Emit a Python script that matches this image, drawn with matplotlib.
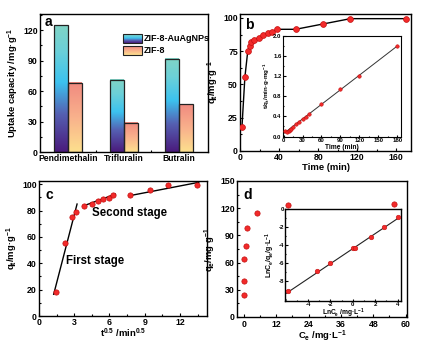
import numpy as np
import matplotlib
matplotlib.use("Agg")
import matplotlib.pyplot as plt
from matplotlib.colors import LinearSegmentedColormap
from matplotlib.patches import Rectangle
from matplotlib.ticker import MultipleLocator, FixedLocator

plt.rcParams['font.family'] = ['Liberation Sans', 'DejaVu Sans']
plt.rcParams['font.weight'] = 'bold'
plt.rcParams['axes.labelweight'] = 'bold'
plt.rcParams['mathtext.fontset'] = 'custom'
plt.rcParams['mathtext.rm'] = 'Liberation Sans:bold'
plt.rcParams['mathtext.it'] = 'Liberation Sans:bold'
plt.rcParams['mathtext.bf'] = 'Liberation Sans:bold'
plt.rcParams['mathtext.default'] = 'regular'
plt.rcParams['axes.unicode_minus'] = False
plt.rcParams['axes.linewidth'] = 1.0

# ---------------- data ----------------
cats = ['Pendimethalin', 'Trifluralin', 'Butralin']
zif_au = [125, 71, 92]
zif8 = [68, 29, 47]

b_time = [2, 5, 8, 10, 11, 14, 19, 24, 29, 33, 38, 57, 85, 113, 170]
b_qt = [18, 55.5, 75.5, 79, 82, 83.5, 85, 87, 88.5, 89.5, 91.5, 91.5, 95.5, 99.5, 99.5]

bi_time = [2, 5, 8, 10, 12, 15, 20, 25, 30, 35, 40, 60, 90, 120, 180]
bi_tq = [0.11, 0.09, 0.11, 0.13, 0.15, 0.18, 0.24, 0.29, 0.34, 0.39, 0.44, 0.65, 0.95, 1.21, 1.80]
bi_fit_t = [0, 180]
bi_fit_v = [0.06, 1.80]

c_x = [1.41, 2.24, 2.83, 3.16, 3.87, 4.47, 5.0, 5.48, 5.92, 6.32, 7.75, 9.49, 10.95, 13.42]
c_y = [18, 55.5, 75.5, 79, 83.5, 85, 87, 88.5, 89.5, 91.5, 91.5, 95.5, 99.5, 99.5]
stage1_x = [1.25, 3.24]
stage1_y = [16.5, 85]
stage2_x = [3.75, 6.5]
stage2_y = [83.5, 92.5]
stage3_x = [7.8, 13.6]
stage3_y = [91.5, 101.5]

d_ce = [0.05, 0.05, 0.2, 1.0, 1.3, 5.0, 16.5, 55.5]
d_qe = [24, 39.5, 63.5, 78.5, 98.5, 114.5, 123.5, 125]

di_lnce = [-5.8, -3.2, -2.0, 0.0, 0.2, 1.6, 2.8, 4.0]
di_ratio = [-9.1, -6.9, -6.0, -4.3, -4.35, -3.1, -2.0, -0.85]
di_fit_x = [-6.0, 4.1]
di_fit_y = [-9.45, -0.95]

# ---------------- styling ----------------
TICK_FS = 6.3
LAB_FS = 6.8
red_face = '#f22a2a'
red_edge = '#c41010'

cm_au = LinearSegmentedColormap.from_list('au', [
    (0.0, '#4a1a7c'), (0.3, '#5560b2'), (0.55, '#3cc2ef'), (0.8, '#6cd0d8'), (1.0, '#80d4c6')])
cm_z8 = LinearSegmentedColormap.from_list('z8', [
    (0.0, '#fde08e'), (0.5, '#f9b18c'), (1.0, '#f08a80')])

W, H = 425, 345
fig = plt.figure(figsize=(4.25, 3.45), dpi=100)


def rect(l, r, t, b):
    return [l / W, (H - b) / H, (r - l) / W, (b - t) / H]


def style(ax, fs=TICK_FS, length=2.5, mlength=1.5, pad=1.5):
    ax.tick_params(which='both', direction='in', labelsize=fs, width=0.8, pad=pad)
    ax.tick_params(which='major', length=length)
    ax.tick_params(which='minor', length=mlength)
    for lab in ax.get_xticklabels() + ax.get_yticklabels():
        lab.set_fontweight('bold')


grad = np.linspace(0, 1, 256).reshape(-1, 1)

# ---------------- panel a ----------------
axa = fig.add_axes(rect(40, 208, 14, 152))
bw = 0.25
x = np.arange(len(cats))
for xi, v1, v2 in zip(x, zif_au, zif8):
    for x0, v, cm in ((xi - bw, v1, cm_au), (xi, v2, cm_z8)):
        axa.imshow(grad, extent=[x0, x0 + bw, 0, v], origin='lower', aspect='auto',
                   cmap=cm, zorder=2, interpolation='bilinear')
        axa.add_patch(Rectangle((x0, 0), bw, v, fill=False, edgecolor='#222222', lw=0.9, zorder=3))
axa.set_xticks(x)
axa.set_xticklabels(cats)
axa.xaxis.set_minor_locator(FixedLocator([0.5, 1.5]))
axa.set_yticks([0, 30, 60, 90, 120])
axa.yaxis.set_minor_locator(MultipleLocator(15))
style(axa)
axa.tick_params(axis='x', which='major', length=0, labelsize=6.2, pad=1.5)
axa.set_ylabel('Uptake capacity /mg·g$^{-1}$', fontsize=LAB_FS, labelpad=2)
axa.text(0.03, 0.99, 'a', transform=axa.transAxes, fontsize=10, fontweight='bold', va='top', ha='left')
# manual gradient legend
for (y0, y1), cm, lab in (((0.79, 0.855), cm_au, 'ZIF-8-AuAgNPs'), ((0.703, 0.768), cm_z8, 'ZIF-8')):
    axa.imshow(grad, extent=[0.492, 0.605, y0, y1], origin='lower', aspect='auto', cmap=cm,
               transform=axa.transAxes, zorder=4, interpolation='bilinear')
    axa.add_patch(Rectangle((0.492, y0), 0.113, y1 - y0, fill=False, edgecolor='#222222', lw=0.8,
                            transform=axa.transAxes, zorder=5))
    axa.text(0.62, (y0 + y1) / 2, lab, transform=axa.transAxes, fontsize=6.5, fontweight='bold',
             va='center', ha='left')
axa.set_xlim(-0.51, 2.52)
axa.set_ylim(0, 136)

# ---------------- panel b ----------------
axb = fig.add_axes(rect(240, 411, 14, 151))
axb.plot(b_time, b_qt, '-', color='black', lw=1.0, zorder=2)
axb.plot(b_time, b_qt, 'o', ms=4.2, mfc=red_face, mec=red_edge, mew=0.5, zorder=3)
axb.set_xlim(0, 175)
axb.set_ylim(0, 103)
axb.set_xticks([0, 40, 80, 120, 160])
axb.set_yticks([0, 25, 50, 75, 100])
axb.xaxis.set_minor_locator(MultipleLocator(20))
axb.yaxis.set_minor_locator(MultipleLocator(12.5))
style(axb)
axb.set_xlabel('Time (min)', fontsize=LAB_FS, labelpad=1)
axb.set_ylabel('q$_t$/mg·g$^{-1}$', fontsize=LAB_FS, labelpad=2)
axb.text(0.03, 0.97, 'b', transform=axb.transAxes, fontsize=10, fontweight='bold', va='top', ha='left')

axbi = fig.add_axes(rect(283, 401, 36, 136.5))
axbi.plot(bi_fit_t, bi_fit_v, '-', color='#333333', lw=0.7, zorder=2)
axbi.plot(bi_time, bi_tq, 'o', ms=2.5, mfc=red_face, mec=red_edge, mew=0.4, zorder=3)
axbi.set_xlim(-1, 186)
axbi.set_ylim(0, 2.0)
axbi.set_xticks([0, 30, 60, 90, 120, 150, 180])
axbi.set_yticks([0.0, 0.4, 0.8, 1.2, 1.6, 2.0])
axbi.set_yticklabels(['0.0', '0.4', '0.8', '1.2', '1.6', '2.0'])
axbi.xaxis.set_minor_locator(MultipleLocator(15))
axbi.yaxis.set_minor_locator(MultipleLocator(0.2))
for s in axbi.spines.values():
    s.set_linewidth(0.8)
style(axbi, fs=4.3, length=1.8, mlength=1.0, pad=1)
axbi.set_xlabel('Time (min)', fontsize=4.8, labelpad=0.5)
axbi.set_ylabel('t/q$_t$/min·g·mg$^{-1}$', fontsize=4.5, labelpad=1)

# ---------------- panel c ----------------
axc = fig.add_axes(rect(39, 207, 181, 316))
axc.plot(stage1_x, stage1_y, '-', color='black', lw=1.0, zorder=2)
axc.plot(stage2_x, stage2_y, '-', color='black', lw=1.0, zorder=2)
axc.plot(stage3_x, stage3_y, '-', color='black', lw=1.0, zorder=2)
axc.plot(c_x, c_y, 'o', ms=3.8, mfc=red_face, mec=red_edge, mew=0.5, zorder=3)
axc.set_xlim(0, 14.3)
axc.set_ylim(0, 102.5)
axc.set_xticks([0, 3, 6, 9, 12])
axc.set_yticks([0, 20, 40, 60, 80, 100])
axc.xaxis.set_minor_locator(MultipleLocator(1.5))
axc.yaxis.set_minor_locator(MultipleLocator(10))
style(axc)
axc.set_xlabel('t$^{0.5}$ /min$^{0.5}$', fontsize=LAB_FS, labelpad=0)
axc.set_ylabel('q$_t$/mg·g$^{-1}$', fontsize=LAB_FS, labelpad=2)
axc.text(4.5, 78.5, 'Second stage', fontsize=8.3, fontweight='bold', va='center', ha='left')
axc.text(2.33, 41.5, 'First stage', fontsize=8.3, fontweight='bold', va='center', ha='left')
axc.text(0.04, 0.95, 'c', transform=axc.transAxes, fontsize=10, fontweight='bold', va='top', ha='left')

# ---------------- panel d ----------------
axd = fig.add_axes(rect(237, 407, 181, 317))
axd.plot(d_ce, d_qe, 'o', ms=3.8, mfc=red_face, mec=red_edge, mew=0.5, zorder=3)
axd.set_xlim(-2.5, 60.5)
axd.set_ylim(0, 150)
axd.set_xticks([0, 12, 24, 36, 48, 60])
axd.set_yticks([0, 30, 60, 90, 120, 150])
axd.xaxis.set_minor_locator(MultipleLocator(6))
axd.yaxis.set_minor_locator(MultipleLocator(15))
style(axd)
axd.tick_params(axis='x', pad=2.2)
axd.set_xlabel('C$_e$ /mg·L$^{-1}$', fontsize=LAB_FS, labelpad=0)
axd.set_ylabel('q$_e$/mg·g$^{-1}$', fontsize=LAB_FS, labelpad=2)
axd.text(0.04, 0.95, 'd', transform=axd.transAxes, fontsize=10, fontweight='bold', va='top', ha='left')

axdi = fig.add_axes(rect(285, 401, 209.3, 300.5))
axdi.plot(di_fit_x, di_fit_y, '-', color='#222222', lw=0.8, zorder=2)
axdi.plot(di_lnce, di_ratio, 'o', ms=3.3, mfc=red_face, mec=red_edge, mew=0.4, zorder=3)
axdi.set_xlim(-6.05, 4.3)
axdi.set_ylim(-10.2, 0)
axdi.set_xticks([-4, -2, 0, 2, 4])
axdi.set_yticks([0, -2, -4, -6, -8])
axdi.xaxis.set_minor_locator(MultipleLocator(1))
axdi.yaxis.set_minor_locator(MultipleLocator(1))
for s in axdi.spines.values():
    s.set_linewidth(1.0)
style(axdi, fs=4.4, length=1.8, mlength=1.0, pad=0.8)
axdi.set_xlabel('LnC$_e$ /mg·L$^{-1}$', fontsize=4.8, labelpad=0)
axdi.set_ylabel('LnC$_e$/q$_e$/g·L$^{-1}$', fontsize=5.0, labelpad=1)

fig.savefig('out.png', dpi=100)
